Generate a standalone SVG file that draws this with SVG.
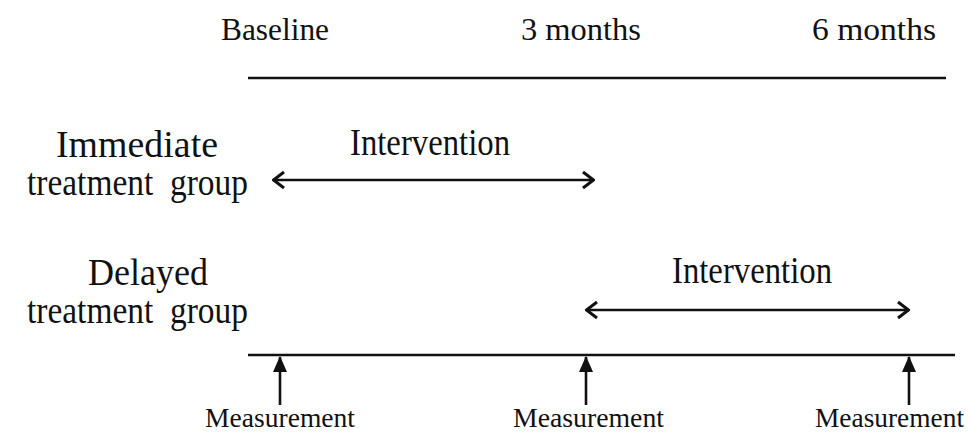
<svg xmlns="http://www.w3.org/2000/svg" width="970" height="435" viewBox="0 0 970 435">
<style>
text{font-family:"Liberation Serif","Times New Roman",serif;fill:#111;white-space:pre}
.t{font-size:32px}
.g{font-size:37px}
.m{font-size:27px}
.ln{stroke:#111;stroke-width:2.6;fill:none}
.ar{stroke:#111;stroke-width:2.6;fill:none}
</style>
<defs>
<marker id="chev" viewBox="0 0 14 20" refX="13" refY="10" markerWidth="14" markerHeight="20" markerUnits="userSpaceOnUse" orient="auto-start-reverse">
<path d="M2,2 L12.5,10 L2,18" fill="none" stroke="#111" stroke-width="3"/>
</marker>
<marker id="tri" viewBox="0 0 16 14" refX="15" refY="7" markerWidth="16" markerHeight="14" markerUnits="userSpaceOnUse" orient="auto">
<path d="M0,0 L16,7 L0,14 Z" fill="#111"/>
</marker>
</defs>
<g id="timepoints">
<text id="baseline" class="t" x="221" y="40" textLength="108" lengthAdjust="spacingAndGlyphs">Baseline</text>
<text id="m3" class="t" x="521" y="40" textLength="120" lengthAdjust="spacingAndGlyphs">3 months</text>
<text id="m6" class="t" x="812" y="40" textLength="124" lengthAdjust="spacingAndGlyphs">6 months</text>
</g>
<g id="immediate-group">
<text class="g" x="56" y="157" textLength="162" lengthAdjust="spacingAndGlyphs">Immediate</text>
<text class="g" x="27" y="195" textLength="221" lengthAdjust="spacingAndGlyphs">treatment  group</text>
</g>
<g id="delayed-group">
<text class="g" x="88" y="285" textLength="120" lengthAdjust="spacingAndGlyphs">Delayed</text>
<text class="g" x="27" y="323" textLength="221" lengthAdjust="spacingAndGlyphs">treatment  group</text>
</g>
<g id="intervention-labels">
<text class="g" x="350" y="155" textLength="160" lengthAdjust="spacingAndGlyphs">Intervention</text>
<text class="g" x="672" y="283" textLength="160" lengthAdjust="spacingAndGlyphs">Intervention</text>
</g>
<g id="measurement-labels">
<text class="m" x="205" y="427" textLength="150" lengthAdjust="spacingAndGlyphs">Measurement</text>
<text class="m" x="513" y="427" textLength="151" lengthAdjust="spacingAndGlyphs">Measurement</text>
<text class="m" x="815" y="427" textLength="149" lengthAdjust="spacingAndGlyphs">Measurement</text>
</g>
<g id="connectors">
<line class="ln" x1="248" y1="78" x2="946" y2="78"/>
<line class="ln" x1="248" y1="355" x2="955" y2="355"/>
<line class="ar" x1="273" y1="180" x2="594" y2="180" marker-start="url(#chev)" marker-end="url(#chev)"/>
<line class="ar" x1="586" y1="310" x2="909" y2="310" marker-start="url(#chev)" marker-end="url(#chev)"/>
<line class="ar" x1="280" y1="405" x2="280" y2="357" marker-end="url(#tri)"/>
<line class="ar" x1="586" y1="405" x2="586" y2="357" marker-end="url(#tri)"/>
<line class="ar" x1="909" y1="405" x2="909" y2="357" marker-end="url(#tri)"/>
</g>
</svg>
